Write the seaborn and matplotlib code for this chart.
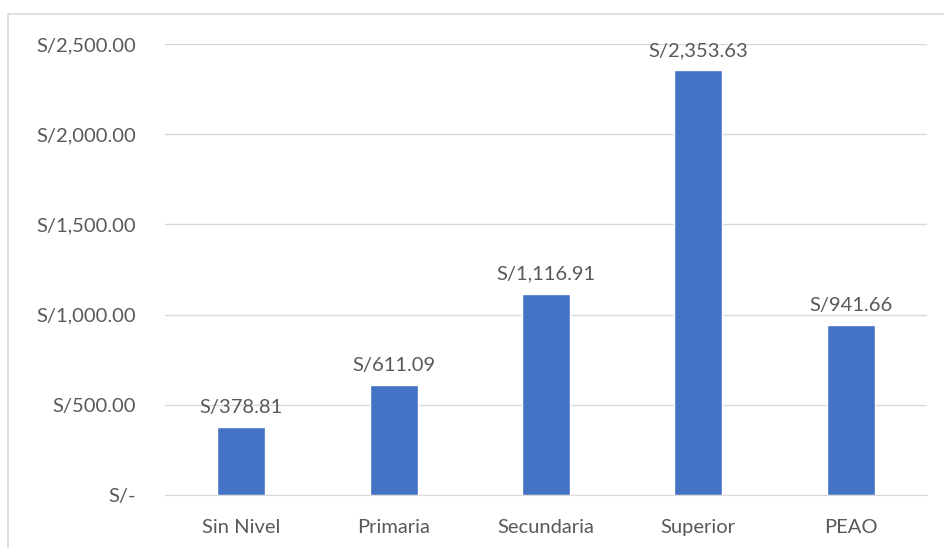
import pandas as pd
import seaborn as sns
import matplotlib.pyplot as plt
from matplotlib.patches import Rectangle
from matplotlib.ticker import FuncFormatter

categories = ["Sin Nivel", "Primaria", "Secundaria", "Superior", "PEAO"]
ingresos = [378.81, 611.09, 1116.91, 2353.63, 941.66]
yticks = [0, 500, 1000, 1500, 2000, 2500]


def soles(v, pos=None):
    if v == 0:
        return "S/-"
    return f"S/{v:,.2f}"


if __name__ == '__main__':
    df = pd.DataFrame({"nivel": categories, "ingreso": ingresos})

    sns.set_style("white")
    plt.rcParams['font.family'] = ['Lato', 'DejaVu Sans']
    text_color = "#595959"

    fig = plt.figure(figsize=(9.44, 5.48), dpi=100)
    ax = fig.add_axes([0.1748, 0.0967, 0.807, 0.823])

    sns.barplot(data=df, x="nivel", y="ingreso", color="#4472C4",
                saturation=1, width=0.315, ax=ax)

    for i, v in enumerate(ingresos):
        ax.annotate(soles(v), (i, v), xytext=(0, 8), textcoords="offset points",
                    ha="center", va="bottom", fontsize=14.5, color=text_color)

    ax.set_ylim(0, 2500)
    ax.set_xlim(-0.5, 4.5)
    ax.set_yticks(yticks)
    ax.yaxis.set_major_formatter(FuncFormatter(soles))
    ax.grid(axis="y", color="#d9d9d9", linewidth=1)
    ax.set_axisbelow(True)
    for side in ["top", "right", "left"]:
        ax.spines[side].set_visible(False)
    ax.spines["bottom"].set_color("#d9d9d9")
    ax.tick_params(axis="both", length=0, labelsize=14.5, colors=text_color)
    ax.tick_params(axis="y", pad=21)
    ax.tick_params(axis="x", pad=17)
    ax.set_xlabel("")
    ax.set_ylabel("")

    # chart border like the spreadsheet frame
    fig.patches.append(Rectangle((8 / 944, -0.1), 1.1, 1 - 14 / 548 + 0.1,
                                 transform=fig.transFigure, fill=False,
                                 edgecolor="#d9d9d9", linewidth=1.2))

    fig.savefig("out.png", dpi=100)
